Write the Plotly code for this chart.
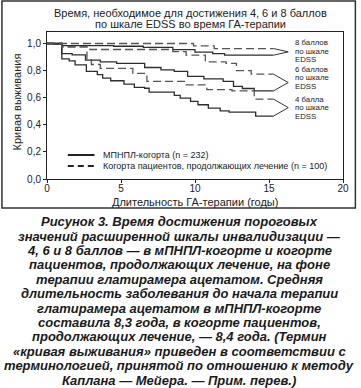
import plotly.graph_objects as go

# ---------------- data ----------------
# MPNPL cohort (solid) and continuing cohort (dashed), Kaplan-Meier steps
t8_solid = [0, 0.4, 1.0, 4.5, 6.5, 8.5, 10.0, 11.2, 12.0, 15.3]
s8_solid = [1.0, 0.995, 0.985, 0.98, 0.972, 0.955, 0.937, 0.925, 0.914, 0.914]

t8_dash = [0, 9.9, 11.3, 15.3]
s8_dash = [1.0, 0.983, 0.963, 0.963]

t6_solid = [0, 1.0, 1.7, 2.6, 3.6, 4.7, 6.6, 7.7, 8.6, 9.5, 10.6, 11.9, 12.6, 13.2, 14.0, 15.3]
s6_solid = [1.0, 0.926, 0.916, 0.877, 0.865, 0.853, 0.823, 0.805, 0.794, 0.757, 0.739, 0.72, 0.683, 0.668, 0.65, 0.65]

t6_dash = [0, 1.0, 2.9, 8.5, 9.4, 10.7, 12.1, 12.8, 13.8, 15.3]
s6_dash = [1.0, 0.975, 0.956, 0.94, 0.914, 0.865, 0.853, 0.80, 0.774, 0.774]

t4_solid = [0, 1.0, 1.5, 1.9, 2.66, 3.4, 3.76, 4.3, 5.2, 5.9, 6.6, 6.9, 8.6, 9.0, 9.7, 10.2, 10.9, 11.7, 12.3, 14.1, 15.3]
s4_solid = [1.0, 0.887, 0.872, 0.842, 0.794, 0.77, 0.744, 0.725, 0.70, 0.676, 0.67, 0.641, 0.617, 0.597, 0.573, 0.548, 0.523, 0.503, 0.494, 0.464, 0.464]

t4_dash = [0, 1.0, 2.7, 3.0, 3.6, 5.8, 6.75, 9.4, 10.8, 12.5, 14.0, 15.3]
s4_dash = [1.0, 0.975, 0.88, 0.845, 0.816, 0.78, 0.72, 0.695, 0.66, 0.65, 0.59, 0.59]

x_ticks = [0, 5, 10, 15, 20]
y_ticks = [0.0, 0.2, 0.4, 0.6, 0.8, 1.0]

group_labels = [["8 баллов", "по шкале", "EDSS"],
                ["6 баллов", "по шкале", "EDSS"],
                ["4 балла", "по шкале", "EDSS"]]

title_lines = ["Время, необходимое для достижения 4, 6 и 8 баллов",
               "по шкале EDSS во время ГА-терапии"]
legend_names = ["МПНПЛ-когорта (n = 232)",
                "Когорта пациентов, продолжающих лечение (n = 100)"]
x_title = "Длительность ГА-терапии (годы)"
y_title = "Кривая выживания"

caption_lines = [
    "Рисунок 3. Время достижения пороговых",
    "значений расширенной шкалы инвалидизации —",
    "4, 6 и 8 баллов — в мПНПЛ-когорте и когорте",
    "пациентов, продолжающих лечение, на фоне",
    "терапии глатирамера ацетатом. Средняя",
    "длительность заболевания до начала терапии",
    "глатирамера ацетатом в мПНПЛ-когорте",
    "составила 8,3 года, в когорте пациентов,",
    "продолжающих лечение, — 8,4 года. (Термин",
    "«кривая выживания» приведен в соответствии с",
    "терминологией, принятой по отношению к методу",
    "Каплана — Мейера. — Прим. перев.)",
]

# ---------------- figure ----------------
W, H = 361, 388
ML, MR, MT, MB = 47, 15, 32, 209
PW = W - ML - MR
PH = H - MT - MB
FONT = "Liberation Sans, Arial, sans-serif"
SOLID_C = "#2e2e2e"
DASH_C = "#555555"
DASH = "8px,4px"


def px_x(px):
    return (px - ML) / PW


def px_y(py):
    return (MT + PH - py) / PH


fig = go.Figure()
curves = [
    (t8_solid, s8_solid, False), (t8_dash, s8_dash, True),
    (t6_solid, s6_solid, False), (t6_dash, s6_dash, True),
    (t4_solid, s4_solid, False), (t4_dash, s4_dash, True),
]
for t, s, dashed in curves:
    fig.add_trace(go.Scatter(
        x=t, y=s, mode="lines", line_shape="hv", showlegend=False,
        hoverinfo="skip",
        line=dict(color=DASH_C if dashed else SOLID_C, width=1.3,
                  dash=DASH if dashed else "solid")))

shapes = []
annotations = []

# brackets ">" joining the two curve ends to the group label
pairs = [(s8_dash[-1], s8_solid[-1]), (s6_dash[-1], s6_solid[-1]), (s4_dash[-1], s4_solid[-1])]
tips_t = [16.3, 16.3, 16.3]
label_rows_px = [[42.7, 51.0, 59.3], [69.3, 77.7, 86.0], [99.3, 107.7, 116.0]]
for (upper, lower), tip_t, rows, lab in zip(pairs, tips_t, label_rows_px, group_labels):
    mid = (upper + lower) / 2
    end_t = t8_solid[-1]
    for yy in (upper, lower):
        shapes.append(dict(type="line", xref="x", yref="y", x0=end_t, y0=yy,
                           x1=tip_t, y1=mid, line=dict(color="#333", width=1)))
    for py, txt in zip(rows, lab):
        annotations.append(dict(
            x=px_x(295.5), y=px_y(py), xref="paper", yref="paper",
            text=txt, showarrow=False, xanchor="left", yanchor="middle",
            font=dict(family=FONT, size=7.8, color="#222")))

# title
for txt, py in zip(title_lines, [13.3, 23.5]):
    annotations.append(dict(
        x=px_x(191.5), y=px_y(py), xref="paper", yref="paper", text=txt,
        showarrow=False, xanchor="center", yanchor="middle",
        font=dict(family=FONT, size=11, color="#222")))

# axis titles
annotations.append(dict(
    x=px_x(197), y=px_y(201.7), xref="paper", yref="paper", text=x_title,
    showarrow=False, xanchor="center", yanchor="middle",
    font=dict(family=FONT, size=11, color="#222")))
annotations.append(dict(
    x=px_x(16.5), y=px_y(101.6), xref="paper", yref="paper", text=y_title,
    showarrow=False, xanchor="center", yanchor="middle", textangle=-90,
    font=dict(family=FONT, size=11, color="#222")))

# legend (manual)
for k, (name, py) in enumerate(zip(legend_names, [155, 166])):
    shapes.append(dict(type="line", xref="paper", yref="paper",
                       x0=px_x(68), x1=px_x(95), y0=px_y(py), y1=px_y(py),
                       line=dict(color="#222", width=2,
                                 dash="solid" if k == 0 else "6px,4px")))
    annotations.append(dict(
        x=px_x(102), y=px_y(py), xref="paper", yref="paper", text=name,
        showarrow=False, xanchor="left", yanchor="middle",
        font=dict(family=FONT, size=9, color="#222")))

# outer frame around the chart
shapes.append(dict(type="rect", xref="paper", yref="paper",
                   x0=px_x(1.5), x1=px_x(358.5), y0=px_y(208), y1=px_y(1),
                   line=dict(color="#333", width=1.5)))

# caption
for k, txt in enumerate(caption_lines):
    py = 221.7 + 14.4 * k
    annotations.append(dict(
        x=px_x(180.5), y=px_y(py), xref="paper", yref="paper",
        text="<b><i>" + txt + "</i></b>", showarrow=False,
        xanchor="center", yanchor="middle",
        font=dict(family=FONT, size=13, color="#1a1a1a")))

axis_common = dict(showgrid=False, zeroline=False, showline=True, mirror=True,
                   linecolor="#222", linewidth=1, ticks="outside", ticklen=3,
                   tickcolor="#222", tickwidth=1,
                   tickfont=dict(family=FONT, size=10, color="#222"))

fig.update_layout(
    width=W, height=H,
    margin=dict(l=ML, r=MR, t=MT, b=MB, pad=0),
    paper_bgcolor="white", plot_bgcolor="white",
    separators=", ",
    xaxis=dict(range=[0, 20], tickvals=x_ticks, ticklabelstandoff=-3, **axis_common),
    yaxis=dict(range=[0, 1.085], tickvals=y_ticks, tickformat=".1f", **axis_common),
    shapes=shapes, annotations=annotations,
    showlegend=False,
)

fig.write_html("out.html", config={"displayModeBar": False},
               post_script="document.body.style.margin='0';document.body.style.overflow='hidden';")
